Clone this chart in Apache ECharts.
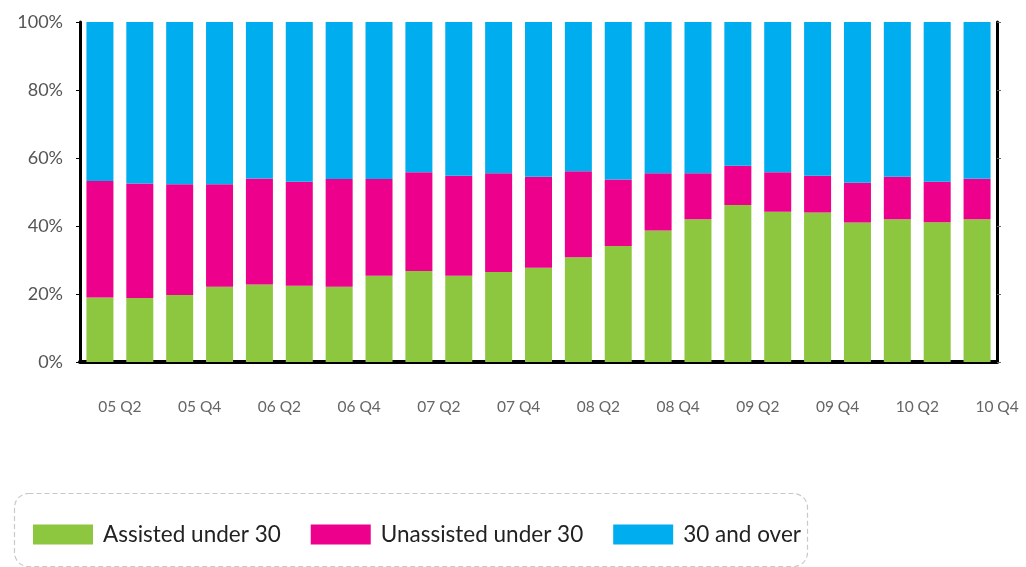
<!DOCTYPE html>
<html>
<head>
<meta charset="utf-8">
<style>
  html, body { margin: 0; padding: 0; background: #fff; }
  #chart { width: 1026px; height: 567px; }
</style>
<script src="https://cdn.jsdelivr.net/npm/echarts@6/dist/echarts.min.js"></script>
</head>
<body>
<div id="chart"></div>
<script>
// quarters, one per bar
var quarters = [
  "05 Q2", "05 Q3", "05 Q4",
  "06 Q1", "06 Q2", "06 Q3", "06 Q4",
  "07 Q1", "07 Q2", "07 Q3", "07 Q4",
  "08 Q1", "08 Q2", "08 Q3", "08 Q4",
  "09 Q1", "09 Q2", "09 Q3", "09 Q4",
  "10 Q1", "10 Q2", "10 Q3", "10 Q4"
];

// shares in %
var assistedUnder30 = [
  19.0, 18.8, 19.7, 22.1, 22.8, 22.4, 22.1, 25.4, 26.8, 25.4, 26.5, 27.7,
  30.8, 34.1, 38.7, 42.0, 46.2, 44.2, 44.0, 41.0, 42.0, 41.1, 42.0
];
var unassistedUnder30 = [
  34.2, 33.7, 32.6, 30.2, 31.2, 30.6, 31.7, 28.4, 29.0, 29.4, 29.0, 26.8,
  25.3, 19.6, 16.8, 13.5, 11.5, 11.6, 10.8, 11.7, 12.5, 11.9, 11.9
];
var over30 = [
  46.8, 47.5, 47.7, 47.7, 46.0, 47.0, 46.2, 46.2, 44.2, 45.2, 44.5, 45.5,
  43.9, 46.3, 44.5, 44.5, 42.3, 44.2, 45.2, 47.3, 45.5, 47.0, 46.1
];

var seriesNames = ["Assisted under 30", "Unassisted under 30", "30 and over"];
var colors = ["#8dc63f", "#ec008c", "#00aeef"];

var dom = document.getElementById("chart");
var myChart = echarts.init(dom, null, { renderer: "canvas" });

var labelFont = "Lato, 'DejaVu Sans', sans-serif";

var option = {
  animation: false,
  color: colors,
  grid: { left: 80, right: 29, top: 22, bottom: 205 },
  legend: {
    left: 28,
    top: 518,
    itemWidth: 60,
    itemHeight: 20,
    itemGap: 30,
    icon: "rect",
    data: seriesNames,
    textStyle: {
      fontFamily: labelFont,
      fontSize: 22.5,
      color: "#222",
      padding: [0, 0, 0, 5]
    }
  },
  graphic: [{
    type: "rect",
    left: 12,
    top: 491,
    shape: { width: 793, height: 73, r: 14 },
    style: { fill: "none", stroke: "#c8c8c8", lineWidth: 1.2, lineDash: [5, 3] },
    silent: true,
    z: -1
  }],
  xAxis: {
    type: "category",
    data: quarters,
    axisLine: { lineStyle: { color: "#000", width: 4 } },
    axisTick: { interval: 0, length: 5, lineStyle: { color: "#444" } },
    axisLabel: {
      interval: 1,
      margin: 37,
      padding: [0, 0, 0, 40],
      fontFamily: labelFont,
      fontSize: 15.5,
      color: "#666"
    }
  },
  yAxis: [
    {
      type: "value",
      min: 0,
      max: 100,
      interval: 20,
      splitLine: { show: false },
      axisLine: { show: true, lineStyle: { color: "#000", width: 3 } },
      axisTick: { show: true, length: 4, lineStyle: { color: "#000" } },
      axisLabel: {
        formatter: "{value}%",
        margin: 17,
        fontFamily: labelFont,
        fontSize: 18,
        color: "#555"
      }
    },
    {
      type: "value",
      position: "right",
      min: 0,
      max: 100,
      interval: 20,
      splitLine: { show: false },
      axisLine: { show: true, lineStyle: { color: "#000", width: 3 } },
      axisTick: { show: true, length: 4, lineStyle: { color: "#666" } },
      axisLabel: { show: false }
    }
  ],
  series: [
    { name: seriesNames[0], type: "bar", stack: "total", barWidth: 27, data: assistedUnder30 },
    { name: seriesNames[1], type: "bar", stack: "total", barWidth: 27, data: unassistedUnder30 },
    { name: seriesNames[2], type: "bar", stack: "total", barWidth: 27, data: over30 }
  ]
};

myChart.setOption(option);
window.addEventListener("resize", myChart.resize);
</script>
</body>
</html>
